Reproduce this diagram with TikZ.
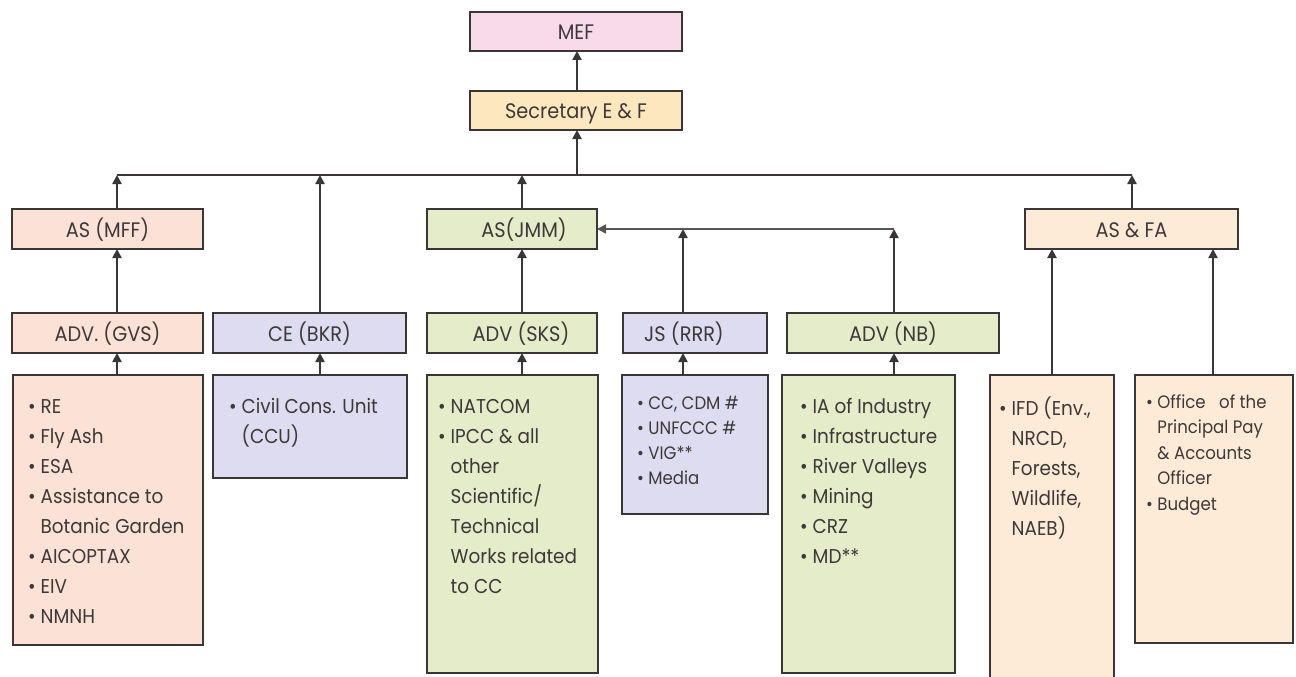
\documentclass[tikz,border=0pt]{standalone}
\usepackage{fontspec}
\setmainfont[FakeStretch=0.92]{Poppins}
\usetikzlibrary{arrows.meta,fit}
\definecolor{linec}{HTML}{3A3636}
\definecolor{txtc}{HTML}{3F3838}
\definecolor{pinkF}{HTML}{F9DAEA}
\definecolor{yellF}{HTML}{FCE7BF}
\definecolor{peachF}{HTML}{FCE2D6}
\definecolor{lavF}{HTML}{DDDCF0}
\definecolor{greenF}{HTML}{E4ECC9}
\definecolor{creamF}{HTML}{FDEBD8}
\newcommand\lblfont{\fontsize{21}{24}\selectfont}
\newcommand\lstfont{\fontsize{20}{30}\selectfont}
\newcommand\smlfont{\fontsize{18}{25}\selectfont}
\newcommand\offfont{\fontsize{18}{25.5}\selectfont}
\newcommand\ind{\phantom{\textbullet\ }}
\newcommand\bul{\textbullet\ }
\newcommand\fs{\rule{0pt}{16pt}}
\begin{document}
\begin{tikzpicture}[x=1pt,y=-1pt,
  box/.style={draw=linec, line width=2.8pt, inner sep=0pt, outer sep=0pt},
  lbl/.style={anchor=base, inner sep=0pt, font=\lblfont, text=txtc},
  conn/.style={draw=linec, line width=2.6pt, -{Triangle[length=9pt,width=9pt]}},
  thinconn/.style={draw=linec!85, line width=1.6pt, -{Triangle[length=9pt,width=9pt]}},
  busline/.style={draw=linec, line width=2.6pt},
  lst/.style={anchor=north west, inner sep=0pt, align=left, text=txtc, font=\lstfont}]
\useasboundingbox (0,0) rectangle (1296,677);
\clip (0,0) rectangle (1296,677);
\fill[white] (0,0) rectangle (1296,677);

% x positions of vertical connectors
\coordinate (xSEC) at (577,0);
\coordinate (xMFF) at (117,0);
\coordinate (xCE) at (320,0);
\coordinate (xJMM) at (522,0);
\coordinate (xJS) at (683,0);
\coordinate (xNB) at (894,0);
\coordinate (xFA) at (1132,0);
\coordinate (xIFD) at (1052,0);
\coordinate (xOFF) at (1213,0);
\coordinate (busL) at (117,175);
\coordinate (busR) at (1132,175);

% top
\node[box, fill=pinkF, fit={(470,12)(682,51)}] (mef) {};
\node[lbl] (mefT) at ([shift={(0,8)}]mef.center) {MEF};
\node[box, fill=yellF, fit={(470,91)(682,130)}] (sec) {};
\node[lbl] (secT) at ([shift={(0,8)}]sec.center) {Secretary E \& F};

% level 2
\node[box, fill=peachF, fit={(12,209)(203,249)}] (asmff) {};
\node[lbl] (asmffT) at ([shift={(0,8)}]asmff.center) {AS (MFF)};
\node[box, fill=greenF, fit={(427,209)(597,249)}] (asjmm) {};
\node[lbl] (asjmmT) at ([shift={(12,8)}]asjmm.center) {AS(JMM)};
\node[box, fill=creamF, fit={(1025,209)(1238,249)}] (asfa) {};
\node[lbl] (asfaT) at ([shift={(0,8)}]asfa.center) {AS \& FA};

% level 3
\node[box, fill=peachF, fit={(12,313)(203,353)}] (gvs) {};
\node[lbl] (gvsT0) at ([shift={(0,8)}]gvs.center) {ADV. (GVS)};
\node[box, fill=lavF, fit={(213,313)(406,353)}] (ce) {};
\node[lbl] (ceT0) at ([shift={(0,8)}]ce.center) {CE (BKR)};
\node[box, fill=greenF, fit={(427,313)(597,353)}] (sks) {};
\node[lbl] (sksT0) at ([shift={(9,8)}]sks.center) {ADV (SKS)};
\node[box, fill=lavF, fit={(623,313)(767,353)}] (js) {};
\node[lbl] (jsT0) at ([shift={(-11,8)}]js.center) {JS (RRR)};
\node[box, fill=greenF, fit={(787,313)(999,353)}] (nb) {};
\node[lbl] (nbT0) at ([shift={(0,8)}]nb.center) {ADV (NB)};

% level 4
\node[box, fill=peachF, fit={(13,375)(203,645)}] (gvsL) {};
\node[lst] (gvsT) at (28,397) {\fs\bul RE\\ \bul Fly Ash\\ \bul ESA\\ \bul Assistance to\\ \ind Botanic Garden\\ \bul AICOPTAX\\ \bul EIV\\ \bul NMNH};
\node[box, fill=lavF, fit={(213,375)(407,478)}] (ceL) {};
\node[lst] (ceT) at (229,397) {\fs\bul Civil Cons. Unit\\ \ind (CCU)};
\node[box, fill=greenF, fit={(427,375)(598,673)}] (sksL) {};
\node[lst] (sksT2) at (438,397) {\fs\bul NATCOM\\ \bul IPCC \& all\\ \ind other\\ \ind Scientific/\\ \ind Technical\\ \ind Works related\\ \ind to CC};
\node[box, fill=lavF, fit={(622,375)(768,514)}] (jsL) {};
\node[lst, font=\smlfont] (jsT2) at (637,393) {\fs\bul CC, CDM \#\\ \bul UNFCCC \#\\ \bul VIG**\\ \bul Media};
\node[box, fill=greenF, fit={(782,375)(955,673)}] (nbL) {};
\node[lst] (nbT) at (800,397) {\fs\bul IA of Industry\\ \bul Infrastructure\\ \bul River Valleys\\ \bul Mining\\ \bul CRZ\\ \bul MD**};
\node[box, fill=creamF, fit={(990,375)(1114,700)}] (ifd) {};
\node[lst] (ifdT) at (999,397) {\fs\bul IFD (Env.,\\ \ind NRCD,\\ \ind Forests,\\ \ind Wildlife,\\ \ind NAEB)};
\node[box, fill=creamF, fit={(1135,375)(1293,643)}] (off) {};
\node[lst, font=\offfont] (offT) at (1146,392) {\fs\bul Office\hspace{9pt} of the\\ \ind Principal Pay\\ \ind \& Accounts\\ \ind Officer\\ \bul Budget};

% connectors
\draw[busline] (busL) -- (busR);
\draw[conn] (xSEC |- busL) -- (sec.south -| xSEC);
\draw[conn] (sec.north -| xSEC) -- (mef.south -| xSEC);
\draw[conn] (asmff.north -| xMFF) -- (busL -| xMFF);
\draw[conn] (ce.north -| xCE) -- (busL -| xCE);
\draw[conn] (asjmm.north -| xJMM) -- (busL -| xJMM);
\draw[conn] (asfa.north -| xFA) -- (busL -| xFA);
\draw[conn] (gvs.north -| xMFF) -- (asmff.south -| xMFF);
\draw[conn] (sks.north -| xJMM) -- (asjmm.south -| xJMM);
\draw[conn] (js.north -| xJS) -- (xJS |- asjmm.east);
\draw[conn] (nb.north -| xNB) -- (xNB |- asjmm.east);
\draw[thinconn] (xNB |- asjmm.east) -- (asjmm.east);
\draw[conn] (ifd.north -| xIFD) -- (asfa.south -| xIFD);
\draw[conn] (off.north -| xOFF) -- (asfa.south -| xOFF);
\draw[conn] (gvsL.north -| xMFF) -- (gvs.south -| xMFF);
\draw[conn] (ceL.north -| xCE) -- (ce.south -| xCE);
\draw[conn] (sksL.north -| xJMM) -- (sks.south -| xJMM);
\draw[conn] (jsL.north -| xJS) -- (js.south -| xJS);
\draw[conn] (nbL.north -| xNB) -- (nb.south -| xNB);
\end{tikzpicture}
\end{document}
